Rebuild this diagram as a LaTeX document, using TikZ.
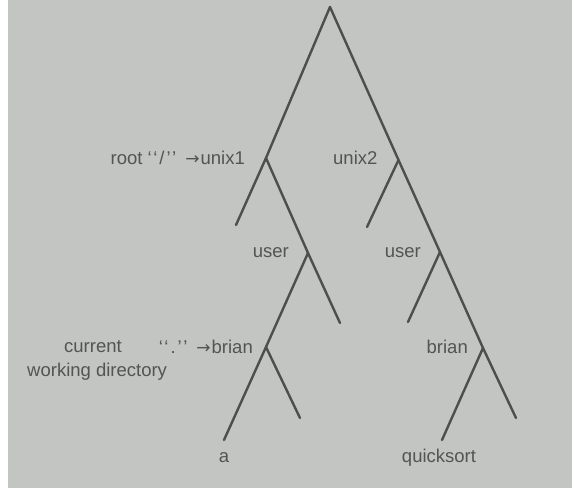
\documentclass[tikz,border=0pt]{standalone}
\usepackage{fontspec}
\setmainfont{Liberation Sans}
\newfontfamily\arrowfont{DejaVu Sans}
\definecolor{paper}{HTML}{C3C5C3}
\definecolor{ink}{HTML}{4E4E4C}
\definecolor{textink}{HTML}{545452}
\newcommand{\qopen}{‘\kern1.5pt‘\kern2pt}
\newcommand{\qclose}{\kern2pt’\kern1.5pt’}
\newcommand{\toarrow}{{\arrowfont\fontsize{17}{17}\selectfont→}}
\begin{document}
\begin{tikzpicture}[x=1pt,y=-1pt,
  branch/.style={draw=ink,line width=2.4pt,line cap=round,line join=miter},
  lbl/.style={inner sep=0pt,text=textink,font=\fontsize{18.5}{21}\selectfont}]
% page
\fill[white] (0,0) rectangle (574,488);
\fill[paper] (8,0) rectangle (572,488);
\useasboundingbox (0,0) rectangle (574,488);
% junctions
\coordinate (root) at (330,7);
\coordinate (unixA) at (266,158);
\coordinate (unixB) at (398.5,160);
\coordinate (userA) at (308,253);
\coordinate (userB) at (440,252);
\coordinate (brianA) at (266,347);
\coordinate (brianB) at (483,348);
% leaves
\coordinate (leafA1) at (236,225);
\coordinate (leafA2) at (340,323);
\coordinate (leafA3) at (300,418);
\coordinate (fileA) at (224,440);
\coordinate (leafB1) at (367,227);
\coordinate (leafB2) at (408,322);
\coordinate (leafB3) at (516,418);
\coordinate (fileB) at (442,440);
% branches
\draw[branch] (root) -- (unixA) -- (leafA1);
\draw[branch] (unixA) -- (userA) -- (leafA2);
\draw[branch] (userA) -- (brianA) -- (fileA);
\draw[branch] (brianA) -- (leafA3);
\draw[branch] (root) -- (unixB) -- (userB) -- (brianB) -- (leafB3);
\draw[branch] (unixB) -- (leafB1);
\draw[branch] (userB) -- (leafB2);
\draw[branch] (brianB) -- (fileB);
% labels
\node[lbl,anchor=east] (lroot) at (245,158) {root \qopen/\qclose\hspace{9pt}\toarrow\kern1pt unix1};
\node[lbl,anchor=west] (lunixB) at (333,158) {unix2};
\node[lbl,anchor=east] (luserA) at (289,253) {user};
\node[lbl,anchor=east] (luserB) at (421,253) {user};
\node[lbl,anchor=east] (lbrianA) at (253,347) {\qopen.\qclose\hspace{9pt}\toarrow\kern1pt brian};
\node[lbl,anchor=west] (lcur) at (64,347) {current};
\node[lbl,anchor=west] (lcwd) at (27,372) {working directory};
\node[lbl,anchor=east] (lbrianB) at (468,347) {brian};
\node[lbl] (lfileA) at (224,458) {a};
\node[lbl] (lfileB) at (439,458) {quicksort};
\end{tikzpicture}
\end{document}
